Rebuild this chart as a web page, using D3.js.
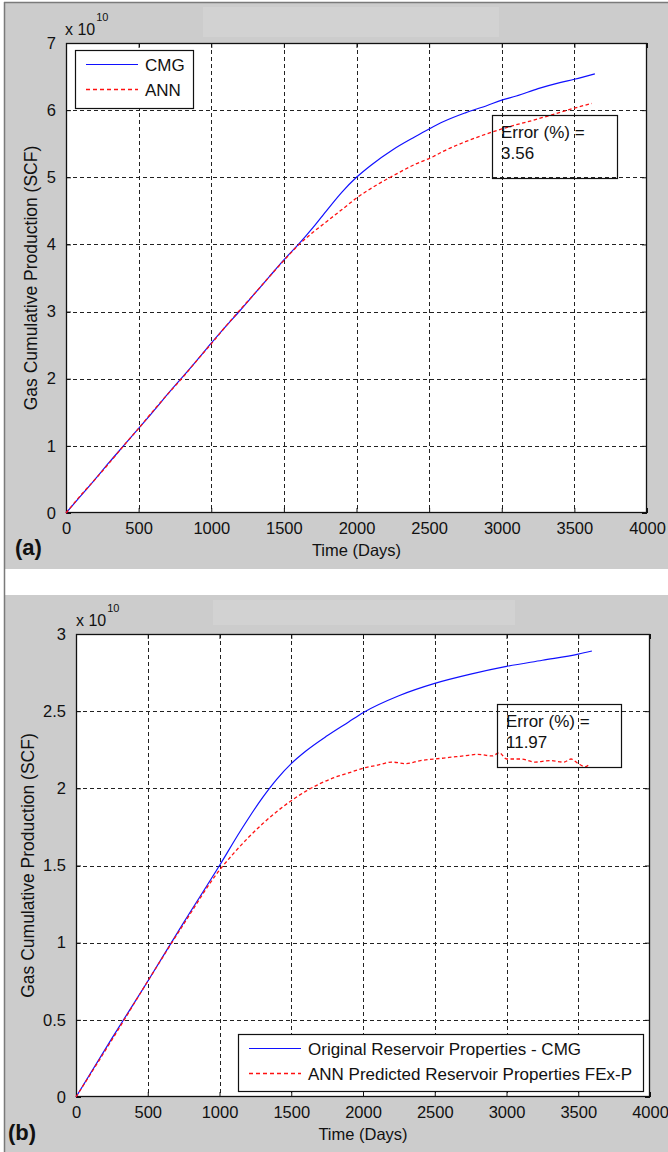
<!DOCTYPE html>
<html>
<head>
<meta charset="utf-8">
<script src="https://cdn.jsdelivr.net/npm/d3@7"></script>
<style>
  html, body { margin: 0; padding: 0; background: #ffffff; }
  svg { display: block; }
  text { font-family: "Liberation Sans", Arial, sans-serif; fill: #111; }
</style>
</head>
<body>
<svg id="fig" width="668" height="1152"></svg>
<script>
// ---- Panel (a): gas cumulative production, values in units of 1e10 SCF ----
const daysA_CMG = [0, 100, 200, 300, 400, 500, 600, 700, 800, 900, 1000, 1100, 1200, 1300, 1400, 1500,
  1600, 1700, 1800, 1900, 2000, 2100, 2250, 2400, 2500, 2600, 2750, 2900, 3000, 3100, 3250, 3400, 3500, 3641];
const gasA_CMG = [0, 0.25, 0.5, 0.76, 1.01, 1.26, 1.51, 1.77, 2.02, 2.27, 2.53, 2.78, 3.02, 3.27, 3.52, 3.77,
  4.0, 4.25, 4.52, 4.78, 5.0, 5.18, 5.41, 5.6, 5.72, 5.83, 5.96, 6.07, 6.15, 6.21, 6.32, 6.41, 6.46, 6.54];
const daysA_ANN = [0, 100, 200, 300, 400, 500, 600, 700, 800, 900, 1000, 1100, 1200, 1300, 1400, 1500,
  1600, 1700, 1800, 1900, 2000, 2150, 2250, 2400, 2530, 2600, 2750, 3000, 3250, 3500, 3619];
const gasA_ANN = [0, 0.26, 0.5, 0.75, 1.01, 1.26, 1.52, 1.77, 2.01, 2.27, 2.52, 2.78, 3.03, 3.27, 3.52, 3.76,
  3.99, 4.18, 4.35, 4.52, 4.69, 4.9, 5.02, 5.19, 5.31, 5.39, 5.53, 5.72, 5.87, 6.03, 6.10];
const ticksA_y = [0, 1, 2, 3, 4, 5, 6, 7];
const errorA = "3.56";
const legendA = ["CMG", "ANN"];

// ---- Panel (b) ----
const daysB_CMG = [0, 250, 500, 750, 1000, 1150, 1300, 1400, 1500, 1600, 1750, 1900, 2000, 2250, 2500,
  2750, 3000, 3250, 3500, 3595];
const gasB_CMG = [0, 0.38, 0.75, 1.13, 1.5, 1.73, 1.94, 2.06, 2.16, 2.24, 2.34, 2.43, 2.49, 2.6, 2.68,
  2.74, 2.79, 2.83, 2.87, 2.89];
const daysB_ANN = [0, 250, 500, 750, 1000, 1100, 1200, 1300, 1400, 1500, 1600, 1700, 1800, 1900, 2000,
  2100, 2200, 2300, 2400, 2500, 2600, 2700, 2800, 2900, 2950, 3000, 3100, 3200, 3300, 3400, 3450, 3500, 3550, 3580];
const gasB_ANN = [0, 0.37, 0.75, 1.12, 1.47, 1.58, 1.68, 1.77, 1.85, 1.92, 1.98, 2.03, 2.07, 2.10, 2.13,
  2.15, 2.17, 2.16, 2.18, 2.19, 2.20, 2.21, 2.22, 2.21, 2.23, 2.19, 2.19, 2.17, 2.18, 2.17, 2.19, 2.16, 2.14, 2.16];
const ticksB_y = [0, 0.5, 1, 1.5, 2, 2.5, 3];
const errorB = "11.97";
const legendB = ["Original Reservoir Properties - CMG", "ANN Predicted Reservoir Properties FEx-P"];

const ticksX = [0, 500, 1000, 1500, 2000, 2500, 3000, 3500, 4000];
const xLabel = "Time (Days)";
const yLabel = "Gas Cumulative Production (SCF)";

const svg = d3.select("#fig");

// figure backgrounds
svg.append("rect").attr("x", 5).attr("y", 3).attr("width", 663).attr("height", 566).attr("fill", "#cccccc");
svg.append("rect").attr("x", 5).attr("y", 595).attr("width", 663).attr("height", 557).attr("fill", "#cccccc");
svg.append("rect").attr("x", 203).attr("y", 7).attr("width", 296).attr("height", 30).attr("fill", "#d2d2d2");
svg.append("rect").attr("x", 213).attr("y", 600).attr("width", 302).attr("height", 25).attr("fill", "#d2d2d2");
svg.append("line").attr("x1", 4.5).attr("x2", 4.5).attr("y1", 2).attr("y2", 1152)
  .attr("stroke", "#7a7a7a").attr("stroke-width", 1.5);
svg.append("line").attr("x1", 4).attr("x2", 668).attr("y1", 2.5).attr("y2", 2.5)
  .attr("stroke", "#7a7a7a").attr("stroke-width", 1.5);

function drawPanel(p) {
  const g = svg.append("g");
  const x = d3.scaleLinear().domain([0, 4000]).range([p.left, p.right]);
  const y = d3.scaleLinear().domain([0, p.yMax]).range([p.bottom, p.top]);

  // plot area
  g.append("rect").attr("x", p.left).attr("y", p.top)
    .attr("width", p.right - p.left).attr("height", p.bottom - p.top).attr("fill", "#ffffff");

  // dashed grid
  const grid = g.append("g").attr("stroke", "#222").attr("stroke-width", 1).attr("stroke-dasharray", "4,3");
  grid.selectAll(".gx").data(ticksX.slice(1, -1)).join("line")
    .attr("x1", d => Math.round(x(d)) + 0.5).attr("x2", d => Math.round(x(d)) + 0.5)
    .attr("y1", p.top).attr("y2", p.bottom);
  grid.selectAll(".gy").data(p.yTicks.slice(1, -1)).join("line")
    .attr("y1", d => Math.round(y(d)) + 0.5).attr("y2", d => Math.round(y(d)) + 0.5)
    .attr("x1", p.left).attr("x2", p.right);

  // axes with inward ticks on all four sides
  const fmtY = d3.format("~g");
  const axB = g.append("g").attr("transform", `translate(0,${p.bottom})`)
    .call(d3.axisBottom(x).tickValues(ticksX).tickSizeInner(-5).tickSizeOuter(0).tickPadding(9).tickFormat(d3.format("d")));
  const axT = g.append("g").attr("transform", `translate(0,${p.top})`)
    .call(d3.axisTop(x).tickValues(ticksX).tickSizeInner(-5).tickSizeOuter(0).tickFormat(""));
  const axL = g.append("g").attr("transform", `translate(${p.left},0)`)
    .call(d3.axisLeft(y).tickValues(p.yTicks).tickSizeInner(-5).tickSizeOuter(0).tickPadding(10).tickFormat(fmtY));
  const axR = g.append("g").attr("transform", `translate(${p.right},0)`)
    .call(d3.axisRight(y).tickValues(p.yTicks).tickSizeInner(-5).tickSizeOuter(0).tickFormat(""));
  [axB, axT, axL, axR].forEach(a => {
    a.select(".domain").remove();
    a.selectAll("line").attr("stroke", "#111");
    a.selectAll("text").attr("font-size", 16.5).attr("fill", "#111")
      .style("font-family", '"Liberation Sans", Arial, sans-serif');
  });
  axB.selectAll("text").attr("dy", "0.71em");

  // axes box
  g.append("rect").attr("x", p.left + 0.5).attr("y", p.top + 0.5)
    .attr("width", p.right - p.left - 1).attr("height", p.bottom - p.top - 1)
    .attr("fill", "none").attr("stroke", "#111").attr("stroke-width", 1.3);

  // series
  const line = d3.line().x(d => x(d[0])).y(d => y(d[1])).curve(d3.curveMonotoneX);
  g.append("path").datum(p.cmgDays.map((d, i) => [d, p.cmgVals[i]]))
    .attr("d", line).attr("fill", "none").attr("stroke", "#1010ff").attr("stroke-width", 1.2);
  g.append("path").datum(p.annDays.map((d, i) => [d, p.annVals[i]]))
    .attr("d", line).attr("fill", "none").attr("stroke", "#ff1010").attr("stroke-width", 1.3)
    .attr("stroke-dasharray", "3.5,2.5");

  // exponent label
  const ex = g.append("text").attr("x", p.expX).attr("y", p.expY).attr("font-size", 16);
  ex.append("tspan").text("x 10");
  ex.append("tspan").attr("font-size", 11).attr("dy", -14).attr("dx", 1).text("10");

  // axis titles
  g.append("text").attr("x", (p.left + p.right) / 2).attr("y", p.bottom + 43)
    .attr("text-anchor", "middle").attr("font-size", 16.5).text(xLabel);
  g.append("text").attr("transform", `translate(${p.yLabX},${(p.top + p.bottom) / 2}) rotate(-90)`)
    .attr("text-anchor", "middle").attr("font-size", 17.5).text(yLabel);

  // panel tag
  g.append("text").attr("x", p.tagX).attr("y", p.tagY).attr("font-size", 22)
    .attr("font-weight", "bold").attr("fill", "#000").text(p.tag);

  // error annotation box (transparent)
  const eb = p.errBox;
  g.append("rect").attr("x", eb[0] + 0.5).attr("y", eb[1] + 0.5).attr("width", eb[2]).attr("height", eb[3])
    .attr("fill", "none").attr("stroke", "#111").attr("stroke-width", 1.2);
  g.append("text").attr("x", eb[0] + 9).attr("y", eb[1] + 23).attr("font-size", 17).text("Error (%) =");
  g.append("text").attr("x", eb[0] + 9).attr("y", eb[1] + 44).attr("font-size", 17).text(p.err);

  // legend
  const lb = p.legBox;
  const lg = g.append("g");
  lg.append("rect").attr("x", lb[0] + 0.5).attr("y", lb[1] + 0.5).attr("width", lb[2]).attr("height", lb[3])
    .attr("fill", "#ffffff").attr("stroke", "#111").attr("stroke-width", 1.2);
  const rows = [{ c: "#1010ff", dash: null, w: 1.2 }, { c: "#ff1010", dash: "4,3", w: 1.4 }];
  rows.forEach((r, i) => {
    const yy = lb[1] + 14.5 + i * 25;
    lg.append("line").attr("x1", lb[0] + 11).attr("x2", lb[0] + 63).attr("y1", yy).attr("y2", yy)
      .attr("stroke", r.c).attr("stroke-width", r.w).attr("stroke-dasharray", r.dash);
    lg.append("text").attr("x", lb[0] + 70).attr("y", yy + 6).attr("font-size", 17).text(p.legend[i]);
  });
}

drawPanel({
  left: 66, right: 647, top: 43, bottom: 513, yMax: 7, yTicks: ticksA_y,
  cmgDays: daysA_CMG, cmgVals: gasA_CMG, annDays: daysA_ANN, annVals: gasA_ANN,
  expX: 65, expY: 35, yLabX: 37, tag: "(a)", tagX: 15, tagY: 555,
  errBox: [492, 115, 125, 63], err: errorA,
  legBox: [75, 50, 118, 58], legend: legendA
});

drawPanel({
  left: 76, right: 650, top: 634, bottom: 1097, yMax: 3, yTicks: ticksB_y,
  cmgDays: daysB_CMG, cmgVals: gasB_CMG, annDays: daysB_ANN, annVals: gasB_ANN,
  expX: 76, expY: 626, yLabX: 34, tag: "(b)", tagX: 8, tagY: 1140,
  errBox: [497, 704, 124, 63], err: errorB,
  legBox: [238, 1034, 405, 57], legend: legendB
});
</script>
</body>
</html>
